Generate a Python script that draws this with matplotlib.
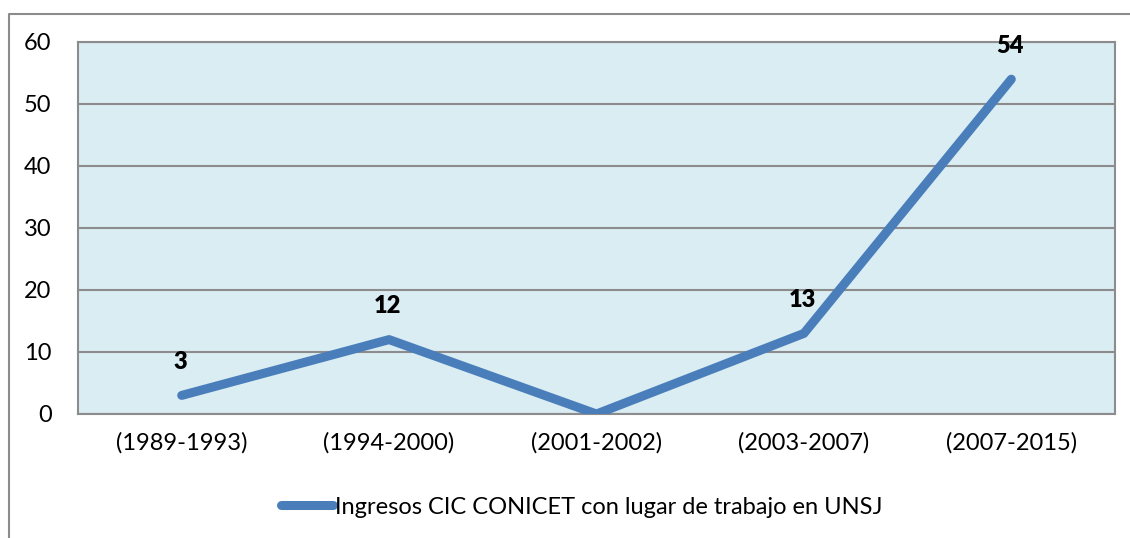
import numpy as np
import matplotlib.pyplot as plt
from matplotlib.lines import Line2D

# data
periods = ["(1989-1993)", "(1994-2000)", "(2001-2002)", "(2003-2007)", "(2007-2015)"]
ingresos = [3, 12, 0, 13, 54]
data_labels = ["3", "12", "", "13", "54"]
series_name = "Ingresos CIC CONICET con lugar de trabajo en UNSJ"

plt.rcParams['font.family'] = ['Lato', 'DejaVu Sans']

W, H = 1130, 538
fig = plt.figure(figsize=(W / 100, H / 100), dpi=100)
ax = fig.add_axes([78 / W, 1 - 414 / H, (1115 - 78) / W, (414 - 42) / H])

# outer chart border (only left and top visible)
bx, by = 8.5 / W, 1 - 13.5 / H
fig.add_artist(Line2D([bx, bx, 1.01], [-0.01, by, by], transform=fig.transFigure,
                      color='#8c8c8c', linewidth=1.5))

line_color = '#4a7ebb'
x = np.arange(len(periods))
ax.plot(x, ingresos, color=line_color, linewidth=6.5, solid_capstyle='round',
        solid_joinstyle='round', label=series_name, zorder=3)

for xi, yi, lab in zip(x, ingresos, data_labels):
    if lab:
        ax.annotate(lab, (xi, yi), xytext=(-1, 24), textcoords='offset points',
                    ha='center', va='center', fontsize=17, fontweight='heavy')

ax.set_facecolor('#daedf3')
ax.set_xlim(-0.5, len(periods) - 0.5)
ax.set_ylim(0, 60)
ax.set_yticks(range(0, 61, 10))
ax.set_xticks(x)
ax.set_xticklabels(periods)
ax.yaxis.grid(True, color='#8c8c8c', linewidth=1.5)
ax.set_axisbelow(True)
ax.tick_params(length=0, labelsize=17)
ax.tick_params(axis='x', pad=13)
ax.tick_params(axis='y', pad=19)
for s in ax.spines.values():
    s.set_color('#8c8c8c')
    s.set_linewidth(1.5)

fig.legend(loc='center', bbox_to_anchor=(582 / W, 1 - 507 / H), frameon=False,
           fontsize=17, handlelength=2.2, handletextpad=0.1)

fig.savefig('out.png', dpi=100)
